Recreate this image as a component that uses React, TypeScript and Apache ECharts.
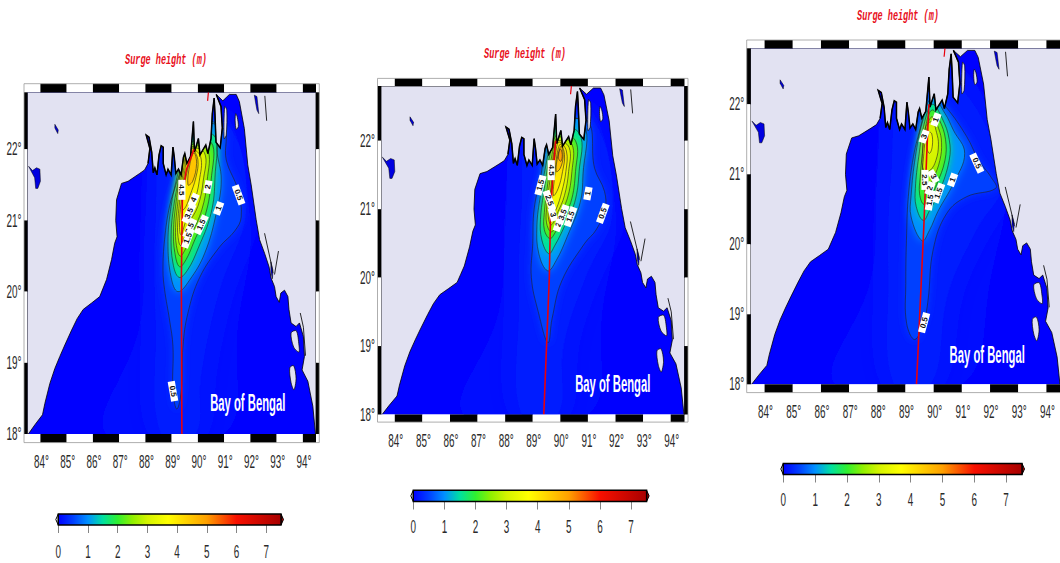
import React, { useEffect, useRef } from "react";
import * as echarts from "echarts";

const titleText = "Surge height (m)";
const bayText = "Bay of Bengal";
const lonTicks = [84, 85, 86, 87, 88, 89, 90, 91, 92, 93, 94];
const latTicks = [18, 19, 20, 21, 22];
const barTicks = [0, 1, 2, 3, 4, 5, 6, 7];
const lonEdges = [83.5, 84, 85, 86, 87, 88, 89, 90, 91, 92, 93, 94, 94.5];
const latEdges = [22.8, 22, 21, 20, 19, 18];

const colorStops: [number, string][] = [
  [0, "#0000ff"], [0.5, "#0040ff"], [1, "#0090ff"], [1.5, "#00e0a0"], [2, "#30f030"],
  [2.5, "#90f000"], [3, "#d4f400"], [3.7, "#ffff00"], [5, "#ffa000"], [6, "#f81000"], [7.5, "#a80000"],
];

const westCoast: number[][] = [
  [83.54,18],[83.79,18.13],[84.08,18.27],[84.17,18.43],[84.36,18.71],[84.55,18.92],[84.74,19.09],[84.93,19.25],[85.19,19.46],[85.4,19.62],
  [85.63,19.75],[85.95,19.84],[86.26,19.93],[86.39,20.05],[86.52,20.17],[86.71,20.45],[86.83,20.68],[86.92,20.77],[86.87,21],[86.9,21.29],
  [87.09,21.52],[87.34,21.55],[87.78,21.66],[87.97,21.71],
];
const headCoast: number[][] = [
  [88.1,21.8],[88.17,22.01],[88.03,22.2],[88.14,22.17],[88.24,21.96],[88.3,21.67],[88.36,21.74],[88.44,21.64],[88.52,21.92],[88.6,22.05],[88.68,22.03],
  [88.68,21.8],[88.79,21.64],[88.86,21.72],[88.98,21.64],[89.05,22.03],[89.1,21.89],[89.16,21.66],[89.26,21.72],[89.36,21.64],[89.45,21.89],[89.5,21.94],
  [89.58,21.8],[89.72,21.9],[89.83,22.39],[89.87,21.96],[90.02,22.15],[90.08,21.92],[90.3,22.06],[90.38,21.94],
  [90.5,22.15],[90.55,22.5],[90.62,22.72],[90.65,22.5],[90.69,22.1],[90.85,22.02],[90.93,22.3],[90.88,22.6],[90.7,22.77],
];
const eastCoast: number[][] = [
  [90.95,22.68],[91.2,22.77],[91.46,22.77],[91.58,22.67],[91.77,22.29],[91.9,21.78],[92.03,21.5],[92.22,21.01],
  [92.35,20.73],[92.54,20.54],[92.71,20.35],[92.79,20.19],[92.92,20.07],[92.98,19.93],[93.1,19.85],[93.16,19.98],[93.3,20.02],
  [93.43,19.93],[93.47,19.75],[93.55,19.56],[93.74,19.51],[93.87,19.56],[94.02,19.37],[94.06,19.09],[93.97,18.9],[94.19,18.74],[94.38,18.39],[94.48,18],
];
const mapCorners: number[][] = [[94.5,18],[94.5,22.8],[83.5,22.8],[83.5,18]];
const islands: number[][][] = [
  [[91.44,22.5],[91.5,22.45],[91.54,22.32],[91.46,22.28],[91.42,22.4]],
  [[93.5,18.93],[93.65,18.96],[93.74,18.78],[93.66,18.62],[93.55,18.72]],
  [[93.55,19.42],[93.75,19.45],[93.85,19.25],[93.85,19.15],[93.65,19.22]],
  [[91.02,22.6],[91.1,22.55],[91.08,22.2],[91,22.15]],
];
const lakes: number[][][] = [
  [[83.55,21.76],[83.7,21.7],[83.85,21.74],[83.98,21.72],[84.0,21.55],[83.9,21.45],[83.82,21.45],[83.78,21.6]],
  [[84.55,22.35],[84.68,22.27],[84.66,22.22],[84.55,22.3]],
  [[92.15,22.76],[92.25,22.74],[92.32,22.5],[92.25,22.55],[92.2,22.65]],
  [[92.78,20.42],[92.86,20.3],[92.84,20.18],[92.78,20.28]],
];
const spurs: number[][][] = [
  [[92.54,20.82],[92.79,20.4],[92.86,20.26]],
  [[93.07,20.57],[92.92,20.24]],
  [[93.9,19.7],[94.02,19.5],[94.1,19.1]],
  [[92.55,22.75],[92.62,22.4]],
];

const glow1 = [
  { level: 0.08, pts: [[86.5,18],[87.8,19.5],[88,21],[88.5,22.2],[90.8,22.6],[92,21],[91.5,19.5],[91,18]] },
  { level: 0.22, pts: [[88.6,18],[88.4,19.5],[88.4,21],[88.9,22.3],[91,22.4],[91.85,21.2],[90.8,20],[90.1,18.8],[89.9,18]] },
];
const contours1 = [
  { level: 0.5, pts: [[89.2,18.35],[89.05,18.6],[89.05,19.23],[88.92,19.6],[88.73,20.03],[88.67,20.3],[88.73,20.73],[88.92,21.2],[89.18,21.52],[89.37,21.75],[89.6,22.3],[90.95,22.3],[91.08,21.85],[91.52,21.43],[91.65,21.05],[91.4,20.85],[90.83,20.63],[90.07,20.2],[89.62,19.7],[89.43,19.23],[89.37,18.62]] },
  { level: 1, pts: [[89.24,20],[88.98,20.2],[88.86,20.7],[88.98,21.2],[89.2,21.6],[89.45,21.95],[89.7,22.35],[90.75,22.35],[90.72,22],[90.89,21.57],[90.7,21.1],[90.26,20.54],[89.68,20.16]] },
  { level: 1.5, pts: [[89.28,20.2],[89.05,20.4],[88.98,20.8],[89.08,21.2],[89.28,21.6],[89.5,22],[90.6,22.2],[90.65,21.6],[90.5,21.1],[90,20.6],[89.6,20.3]] },
  { level: 2, pts: [[89.3,20.35],[89.12,20.55],[89.07,20.85],[89.15,21.2],[89.33,21.65],[89.55,22],[90.5,22.1],[90.5,21.55],[90.3,21.1],[89.85,20.7],[89.55,20.45]] },
  { level: 2.5, pts: [[89.32,20.5],[89.18,20.65],[89.15,20.9],[89.22,21.2],[89.38,21.65],[89.6,22],[90.35,22],[90.35,21.55],[90.15,21.15],[89.75,20.8],[89.5,20.58]] },
  { level: 3, pts: [[89.33,20.65],[89.24,20.78],[89.23,20.95],[89.3,21.25],[89.45,21.7],[89.65,22],[90.25,21.95],[90.2,21.55],[90,21.2],[89.65,20.95],[89.45,20.72]] },
  { level: 3.5, pts: [[89.35,20.8],[89.3,21],[89.38,21.3],[89.5,21.7],[89.7,22],[90.1,21.9],[90.05,21.55],[89.85,21.25],[89.55,21]] },
  { level: 4, pts: [[89.42,21.15],[89.45,21.4],[89.6,21.7],[89.8,21.98],[90,21.85],[89.92,21.6],[89.7,21.35],[89.55,21.2]] },
  { level: 4.5, pts: [[89.62,21.5],[89.7,21.8],[89.85,21.95],[89.95,21.8],[89.8,21.55]] },
];
const track1 = [[89.85,22],[89.56,21.71],[89.41,21.38],[89.37,20.16],[89.39,18]];
const labels1: [number, number, string, number][] = [
  [89.39,21.43,"4.5",-90],[89.84,21.29,"4",65],[89.66,21.1,"3.5",65],[89.69,20.89,"2.5",65],[89.62,20.75,"1.5",70],
  [90.13,20.94,"1.5",65],[90.38,21.47,"2",80],[90.79,21.17,"1",70],[91.55,21.36,"0.5",-70],[89.05,18.6,"0.5",-80],
];

const glow2 = [
  { level: 0.08, pts: [[86.5,18],[87.8,19.5],[88,21],[88.5,22.2],[90.8,22.6],[92,21],[91.5,19.5],[91,18]] },
  { level: 0.22, pts: [[88.6,18],[88.5,19.5],[88.6,21],[89,22.3],[91,22.4],[91.9,21],[90.9,20],[90.1,19],[89.9,18]] },
];
const contours2 = [
  { level: 0.5, pts: [[89.55,19.05],[89.2,19.5],[88.95,20],[89,20.5],[89.05,21],[89.3,21.5],[89.6,22.1],[90.95,22.3],[91.24,21.6],[91.6,21.26],[91.62,21],[91.3,20.7],[90.88,20.5],[90.05,19.95],[89.7,19.4]] },
  { level: 1, pts: [[89.54,20.1],[89.22,20.35],[89.15,20.75],[89.28,21.2],[89.55,21.8],[89.8,22.3],[90.85,22.25],[90.82,21.5],[90.72,21.1],[90.25,20.6],[89.85,20.25]] },
  { level: 1.5, pts: [[89.58,20.35],[89.33,20.55],[89.28,20.85],[89.42,21.3],[89.65,21.85],[89.9,22.2],[90.7,22.1],[90.68,21.55],[90.52,21.1],[90.15,20.75],[89.8,20.47]] },
  { level: 2, pts: [[89.62,20.57],[89.42,20.7],[89.42,20.95],[89.52,21.3],[89.7,21.8],[89.9,22.1],[90.55,22],[90.55,21.55],[90.38,21.1],[90.05,20.85],[89.8,20.65]] },
  { level: 2.5, pts: [[89.65,20.67],[89.5,20.8],[89.5,21],[89.6,21.35],[89.75,21.8],[89.9,22.05],[90.42,21.95],[90.42,21.55],[90.25,21.15],[89.95,20.9],[89.8,20.72]] },
  { level: 3, pts: [[89.67,20.77],[89.56,20.9],[89.6,21.1],[89.68,21.4],[89.78,21.8],[89.9,22],[90.32,21.9],[90.3,21.55],[90.15,21.2],[89.9,20.95]] },
  { level: 3.5, pts: [[89.7,20.9],[89.65,21.05],[89.72,21.45],[89.82,21.8],[89.95,21.98],[90.22,21.85],[90.2,21.55],[90.05,21.25],[89.85,21]] },
  { level: 4, pts: [[89.75,21.2],[89.8,21.5],[89.88,21.8],[90,21.95],[90.15,21.8],[90.08,21.55],[89.92,21.3]] },
  { level: 4.5, pts: [[89.85,21.55],[89.92,21.8],[90.03,21.92],[90.1,21.78],[90,21.6]] },
  { level: 5, pts: [[89.93,21.75],[90,21.88],[90.07,21.8],[90.02,21.7]] },
];
const track2 = [[89.83,22],[89.75,21.6],[89.65,21],[89.6,20],[89.55,19.5],[89.4,18]];
const labels2: [number, number, string, number][] = [
  [89.67,21.57,"4.5",-90],[89.28,21.35,"1.5",75],[89.6,21.13,"2.5",-70],[89.73,20.92,"3",-75],[89.97,20.82,"2.5",70],
  [90.09,20.92,"3.5",70],[90.37,20.89,"1.5",70],[91,21.23,"1",80],[91.54,20.94,"0.5",70],
];

const glow3 = [
  { level: 0.08, pts: [[86.5,18],[87.8,19.5],[88,21],[88.5,22.2],[90.8,22.6],[92.5,21],[92,19.5],[91,18]] },
  { level: 0.22, pts: [[88.6,18],[88.4,19.5],[88.5,21],[89,22.3],[90.8,22.3],[92.4,20.9],[91.5,20.2],[90.5,19.3],[89.9,18]] },
];
const contours3 = [
  { level: 0.5, pts: [[89.33,18.64],[89.04,18.87],[89.01,19.44],[89.04,20.15],[89.1,20.68],[89.28,21.25],[89.57,21.73],[89.85,22.2],[90.46,21.95],[91.17,21.54],[91.6,21.2],[92.05,20.95],[92.2,20.8],[91.17,20.68],[90.46,20.44],[89.98,19.92],[89.8,19.2],[89.65,18.9]] },
  { level: 1, pts: [[89.59,20.05],[89.2,20.39],[89.2,20.7],[89.35,21.25],[89.6,21.75],[89.95,22.1],[90.4,21.87],[90.7,21.63],[91.1,21.3],[90.7,20.87],[90.15,20.47],[89.85,20.2]] },
  { level: 1.5, pts: [[89.63,20.34],[89.38,20.54],[89.35,20.8],[89.47,21.25],[89.68,21.75],[89.95,22],[90.3,21.8],[90.55,21.5],[90.55,21.2],[90.2,20.75],[89.85,20.48]] },
  { level: 2, pts: [[89.65,20.57],[89.5,20.72],[89.52,20.95],[89.6,21.3],[89.75,21.75],[89.95,21.92],[90.2,21.78],[90.42,21.5],[90.4,21.2],[90.1,20.85],[89.85,20.65]] },
  { level: 2.5, pts: [[89.67,20.8],[89.6,20.95],[89.64,21.25],[89.78,21.7],[89.95,21.82],[90.18,21.65],[90.28,21.45],[90.22,21.2],[90,20.95],[89.8,20.82]] },
  { level: 3, pts: [[89.65,21.05],[89.6,21.3],[89.72,21.68],[89.95,21.75],[90.1,21.6],[90.17,21.42],[90.08,21.2],[89.88,21.06]] },
  { level: 3.5, pts: [[89.75,21.4],[89.82,21.6],[89.93,21.58],[89.95,21.4],[89.85,21.3]] },
];
const track3 = [[89.83,22],[89.75,21.25],[89.65,20.25],[89.39,18]];
const labels3: [number, number, string, number][] = [
  [89.66,21.54,"3",70],[91.53,21.16,"0.5",-65],[90.67,20.92,"1",70],[89.69,20.92,"2.5",-90],[89.99,20.97,"3",-60],
  [89.87,20.8,"2",70],[90.17,20.73,"1.5",70],[89.87,20.63,"1.5",80],[90.08,21.78,"1",70],[89.66,18.88,"0.5",75],
];
const trackTip = [[90.4,22.8],[90.37,22.68]];

const panels = [
  { grid: { left: 27.3, top: 92.3, width: 288.7, height: 341.7 }, bar: { left: 58.3, top: 514, width: 222.7, height: 11 }, side: 3.3, band: 8.6,
    xLabelGap: 19, barLabelY: 551.7, title: [166, 60], glow: glow1, contours: contours1, track: track1, labels: labels1, bay: [91.9, 18.44] },
  { grid: { left: 381, top: 86, width: 303.5, height: 328.5 }, bar: { left: 413.3, top: 490.3, width: 233.3, height: 11.2 }, side: 3.5, band: 7.6,
    xLabelGap: 18.5, barLabelY: 526.7, title: [525, 54], glow: glow2, contours: contours2, track: track2, labels: labels2, bay: [91.9, 18.45] },
  { grid: { left: 750.5, top: 48.3, width: 310, height: 336 }, bar: { left: 783.3, top: 463.5, width: 238.7, height: 11 }, side: 3.8, band: 8.3,
    xLabelGap: 19, barLabelY: 500, title: [898, 16], glow: glow3, contours: contours3, track: track3, labels: labels3, bay: [91.9, 18.43] },
];

function hex(c: string) { return [1, 3, 5].map((i) => parseInt(c.slice(i, i + 2), 16)); }
function ramp(v: number) {
  for (let i = 1; i < colorStops.length; i++) {
    const [a, ca] = colorStops[i - 1];
    const [b, cb] = colorStops[i];
    if (v <= b) {
      const t = (v - a) / (b - a);
      const A = hex(ca), B = hex(cb);
      return `rgb(${A.map((x, k) => Math.round(x + (B[k] - x) * t)).join(",")})`;
    }
  }
  return colorStops[colorStops.length - 1][1];
}

const tickFont = "18px 'Liberation Sans'";
const tickScale = 0.55;
const tickColor = "#2a2a2a";

function buildOption() {
  const grid: any[] = [], xAxis: any[] = [], yAxis: any[] = [], series: any[] = [];
  const coast = [...westCoast, ...headCoast, ...eastCoast];
  panels.forEach((p, i) => {
    const g = i * 2;
    grid.push({ ...p.grid, show: true, backgroundColor: "#0000ff", borderWidth: 0, outerBoundsMode: "none" });
    grid.push({ ...p.bar, show: false, outerBoundsMode: "none" });
    const hidden = { splitLine: { show: false }, axisLine: { show: false }, axisTick: { show: false }, axisLabel: { show: false } };
    xAxis.push({ gridIndex: g, type: "value", min: 83.5, max: 94.5, ...hidden });
    yAxis.push({ gridIndex: g, type: "value", min: 18, max: 22.8, ...hidden });
    xAxis.push({
      gridIndex: g + 1, type: "value", min: 0, max: 7.5, splitLine: { show: false }, axisLine: { show: false },
      axisTick: { show: true, customValues: barTicks, length: 8, lineStyle: { color: "#666", width: 0.8 } },
      axisLabel: { show: false },
    });
    yAxis.push({ gridIndex: g + 1, type: "value", min: 0, max: 1, show: false });

    const axisIdx = { xAxisIndex: g, yAxisIndex: g, coordinateSystem: "cartesian2d" };
    const poly = (api: any, pts: number[][]) => pts.map((q) => api.coord(q));
    const all = [...p.glow, ...p.contours];

    series.push({
      type: "custom", name: `field${i}`, ...axisIdx, silent: true, z: 2, clip: true,
      data: all.map((c) => [c.pts[0][0], c.pts[0][1], c.level]),
      renderItem: (ps: any, api: any) => {
        const c = all[ps.dataIndex];
        const col = ramp(c.level);
        return { type: "polygon", shape: { points: poly(api, c.pts), smooth: 0.4 }, style: { fill: col, stroke: null, shadowBlur: c.level < 0.5 ? 32 : 8, shadowColor: col } };
      },
    });
    series.push({
      type: "custom", name: `contours${i}`, ...axisIdx, silent: true, z: 3, clip: true,
      data: p.contours.map((c) => [c.pts[0][0], c.pts[0][1], c.level]),
      renderItem: (ps: any, api: any) => ({
        type: "polygon", shape: { points: poly(api, p.contours[ps.dataIndex].pts), smooth: 0.4 },
        style: { fill: "none", stroke: "#222", lineWidth: 0.6 },
      }),
    });
    series.push({
      type: "custom", name: `land${i}`, ...axisIdx, silent: true, z: 4, clip: true,
      data: [[coast[0][0], coast[0][1]]],
      renderItem: (_: any, api: any) => ({
        type: "group",
        children: [
          { type: "polygon", shape: { points: poly(api, [...coast, ...mapCorners]) }, style: { fill: "#e2e2f2", stroke: "#000", lineWidth: 0.8 } },
          { type: "polyline", shape: { points: poly(api, headCoast) }, style: { fill: "none", stroke: "#000", lineWidth: 1.5 } },
          ...lakes.map((l) => ({ type: "polygon", shape: { points: poly(api, l) }, style: { fill: "#0000e0", stroke: "#000", lineWidth: 0.5 } })),
          ...islands.map((l) => ({ type: "polygon", shape: { points: poly(api, l), smooth: 0.3 }, style: { fill: "#e2e2f2", stroke: "#000", lineWidth: 0.7 } })),
          ...spurs.map((l) => ({ type: "polyline", shape: { points: poly(api, l) }, style: { fill: "none", stroke: "#111", lineWidth: 0.9 } })),
        ],
      }),
    });
    series.push({ type: "line", name: `track${i}`, xAxisIndex: g, yAxisIndex: g, z: 5, showSymbol: false, silent: true, data: p.track, lineStyle: { color: "#e8000c", width: 1.6 } });
    series.push({ type: "line", name: `trackTip${i}`, xAxisIndex: g, yAxisIndex: g, z: 5, showSymbol: false, silent: true, data: trackTip, lineStyle: { color: "#e8000c", width: 1.2 } });
    series.push({
      type: "custom", name: `labels${i}`, ...axisIdx, silent: true, z: 6, clip: false,
      data: p.labels.map((l) => [l[0], l[1]]),
      renderItem: (ps: any, api: any) => {
        const [lon, lat, text, deg] = p.labels[ps.dataIndex];
        const [x, y] = api.coord([lon, lat]);
        const w = text.length > 1 ? 20 : 13;
        return {
          type: "group", x, y, rotation: (deg * Math.PI) / 180,
          children: [
            { type: "rect", shape: { x: -w / 2, y: -3.6, width: w, height: 7.2 }, style: { fill: "#fff" } },
            { type: "text", style: { x: 0, y: 0, text, fill: "#111", font: "bold 8px 'Liberation Sans'", align: "center", verticalAlign: "middle" } },
          ],
        };
      },
    });
    series.push({
      type: "custom", name: `bay${i}`, ...axisIdx, silent: true, z: 6, clip: false,
      data: [p.bay],
      renderItem: (_: any, api: any) => {
        const [x, y] = api.coord(p.bay);
        return { type: "text", x, y, scaleX: 0.47, style: { x: 0, y: 0, text: bayText, fill: "#fff", font: "bold 24px 'Liberation Sans'", align: "center", verticalAlign: "middle" } };
      },
    });
    series.push({
      type: "custom", name: `frame${i}`, ...axisIdx, silent: true, z: 8, clip: false,
      data: [[83.5, 18]],
      renderItem: (_: any, api: any) => {
        const ch: any[] = [];
        const L = api.coord([83.5, 18])[0], R = api.coord([94.5, 18])[0];
        const T = api.coord([83.5, 22.8])[1], B = api.coord([83.5, 18])[1];
        const s = p.side, b = p.band;
        lonEdges.slice(1).forEach((e, k) => {
          const x0 = api.coord([lonEdges[k], 18])[0], x1 = api.coord([e, 18])[0];
          const fill = k % 2 === 1 ? "#000" : "#fff";
          ch.push({ type: "rect", shape: { x: x0, y: T - b, width: x1 - x0, height: b }, style: { fill } });
          ch.push({ type: "rect", shape: { x: x0, y: B, width: x1 - x0, height: b }, style: { fill } });
        });
        latEdges.slice(1).forEach((e, k) => {
          const y0 = api.coord([83.5, latEdges[k]])[1], y1 = api.coord([83.5, e])[1];
          const fill = k % 2 === 0 ? "#000" : "#fff";
          ch.push({ type: "rect", shape: { x: L - s, y: y0, width: s, height: y1 - y0 }, style: { fill } });
          ch.push({ type: "rect", shape: { x: R, y: y0, width: s, height: y1 - y0 }, style: { fill } });
        });
        ch.push({ type: "rect", shape: { x: L - s, y: T - b, width: R - L + 2 * s, height: B - T + 2 * b }, style: { fill: "none", stroke: "#999", lineWidth: 0.8 } });
        return { type: "group", children: ch };
      },
    });
    series.push({
      type: "custom", name: `lonLabels${i}`, ...axisIdx, silent: true, z: 9, clip: false,
      data: lonTicks.map((v) => [v, 18]),
      renderItem: (ps: any, api: any) => {
        const [x, y] = api.coord([lonTicks[ps.dataIndex], 18]);
        return { type: "text", x: x + 1, y: y + p.band + p.xLabelGap, scaleX: tickScale, style: { x: 0, y: 0, text: `${lonTicks[ps.dataIndex]}°`, fill: tickColor, font: tickFont, align: "center", verticalAlign: "middle" } };
      },
    });
    series.push({
      type: "custom", name: `latLabels${i}`, ...axisIdx, silent: true, z: 9, clip: false,
      data: latTicks.map((v) => [83.5, v]),
      renderItem: (ps: any, api: any) => {
        const [x, y] = api.coord([83.5, latTicks[ps.dataIndex]]);
        return { type: "text", x: x - p.side - 2.5, y, scaleX: tickScale, style: { x: 0, y: 0, text: `${latTicks[ps.dataIndex]}°`, fill: tickColor, font: tickFont, align: "right", verticalAlign: "middle" } };
      },
    });
    series.push({
      type: "custom", name: `colorbar${i}`, xAxisIndex: g + 1, yAxisIndex: g + 1, coordinateSystem: "cartesian2d", silent: true, z: 6, clip: false,
      data: [[0, 0]],
      renderItem: (_: any, api: any) => {
        const [x0, y1] = api.coord([0, 0]);
        const [x1, y0] = api.coord([7.5, 1]);
        const mid = (y0 + y1) / 2;
        const grad = { type: "linear", x: 0, y: 0, x2: 1, y2: 0, colorStops: colorStops.map(([v, color]) => ({ offset: v / 7.5, color })) };
        return {
          type: "group",
          children: [
            { type: "polygon", shape: { points: [[x0, y0], [x0 - 2.5, mid], [x0, y1]] }, style: { fill: "#fff", stroke: "#000", lineWidth: 1 } },
            { type: "polygon", shape: { points: [[x1, y0], [x1 + 2.5, mid], [x1, y1]] }, style: { fill: "#a80000", stroke: "#000", lineWidth: 1 } },
            { type: "rect", shape: { x: x0, y: y0, width: x1 - x0, height: y1 - y0 }, style: { fill: grad, stroke: "#000", lineWidth: 1.4 } },
          ],
        };
      },
    });
    series.push({
      type: "custom", name: `barLabels${i}`, xAxisIndex: g + 1, yAxisIndex: g + 1, coordinateSystem: "cartesian2d", silent: true, z: 9, clip: false,
      data: barTicks.map((v) => [v, 0]),
      renderItem: (ps: any, api: any) => {
        const [x] = api.coord([barTicks[ps.dataIndex], 0]);
        return { type: "text", x, y: p.barLabelY, scaleX: tickScale, style: { x: 0, y: 0, text: `${barTicks[ps.dataIndex]}`, fill: tickColor, font: tickFont, align: "center", verticalAlign: "middle" } };
      },
    });
  });
  const graphic = panels.map((p) => ({
    type: "text", x: p.title[0], y: p.title[1], scaleX: 0.61, silent: true,
    style: { text: titleText, fill: "#e8101c", font: "italic bold 14px 'Liberation Mono'", align: "center", verticalAlign: "middle" },
  }));
  return { animation: false, backgroundColor: "#fff", grid, xAxis, yAxis, series, graphic };
}

export default function App() {
  const ref = useRef<HTMLDivElement>(null);
  useEffect(() => {
    const chart = echarts.init(ref.current!, null, { renderer: "svg" });
    chart.setOption(buildOption() as any);
    return () => chart.dispose();
  }, []);
  return <div ref={ref} style={{ position: "fixed", left: 0, top: 0, width: 1060, height: 563 }} />;
}
